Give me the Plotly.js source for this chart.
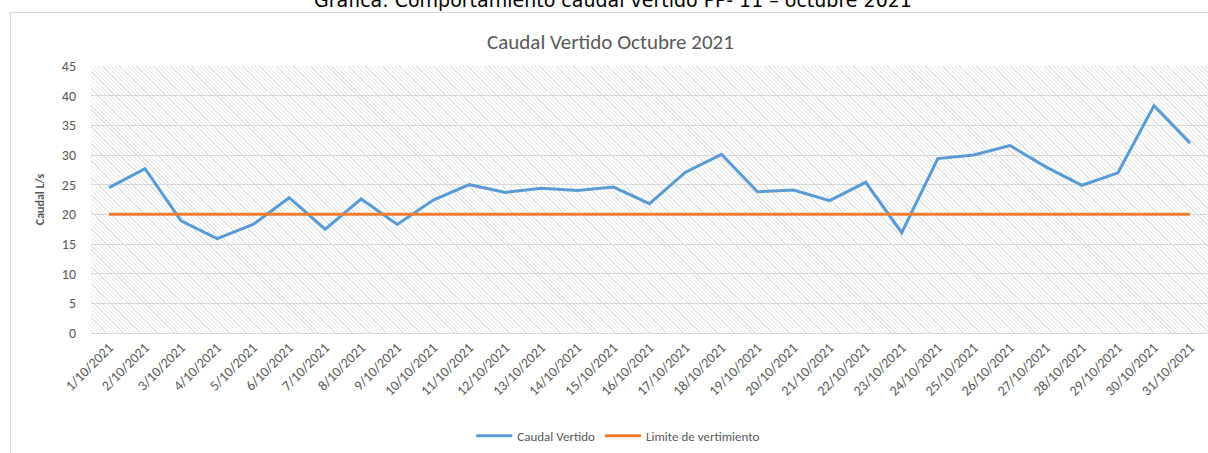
<!DOCTYPE html>
<html>
<head>
<meta charset="utf-8">
<script src="https://cdn.plot.ly/plotly-3.0.1.min.js"></script>
<style>
  html, body { margin: 0; padding: 0; background: #fff; }
  #wrap { position: relative; width: 1208px; height: 453px; overflow: hidden; }
  #frame { position: absolute; left: 10px; top: 12px; width: 1210px; height: 460px; border: 1px solid #d9d9d9; box-sizing: border-box; }
  #hatch { position: absolute; background: repeating-linear-gradient(45deg, #ffffff 0px, #ffffff 1.5px, #e4e4e4 1.5px, #e4e4e4 2.4px, #ffffff 2.4px, #ffffff 3px); }
  #chart { position: absolute; left: 0; top: 0; width: 1208px; height: 453px; }
</style>
</head>
<body>
<div id="wrap">
  <div id="frame"></div>
  <div id="hatch"></div>
  <div id="chart"></div>
</div>
<script>
const fechas = ["1/10/2021","2/10/2021","3/10/2021","4/10/2021","5/10/2021","6/10/2021","7/10/2021","8/10/2021","9/10/2021","10/10/2021","11/10/2021","12/10/2021","13/10/2021","14/10/2021","15/10/2021","16/10/2021","17/10/2021","18/10/2021","19/10/2021","20/10/2021","21/10/2021","22/10/2021","23/10/2021","24/10/2021","25/10/2021","26/10/2021","27/10/2021","28/10/2021","29/10/2021","30/10/2021","31/10/2021"];
const caudalVertido = [24.5, 27.7, 18.9, 15.9, 18.3, 22.8, 17.5, 22.6, 18.3, 22.4, 25.0, 23.7, 24.4, 24.0, 24.6, 21.8, 27.1, 30.1, 23.8, 24.1, 22.3, 25.4, 16.9, 29.4, 30.0, 31.6, 28.0, 24.9, 27.0, 38.3, 32.0];
const limiteVertimiento = [20,20,20,20,20,20,20,20,20,20,20,20,20,20,20,20,20,20,20,20,20,20,20,20,20,20,20,20,20,20,20];
const yTicks = [0,5,10,15,20,25,30,35,40,45];

const font = "Carlito, 'Liberation Sans Narrow', 'Open Sans', sans-serif";
const gray = "#595959";

const traces = [
  { x: fechas, y: caudalVertido, name: "Caudal Vertido", type: "scatter", mode: "lines",
    line: { color: "#5b9bd5", width: 3, shape: "linear" } },
  { x: fechas, y: limiteVertimiento, name: "Limite de vertimiento", type: "scatter", mode: "lines",
    line: { color: "#ed7d31", width: 3 } }
];

const layout = {
  width: 1208, height: 453,
  margin: { l: 91, r: 0, t: 66, b: 120 },
  paper_bgcolor: "rgba(0,0,0,0)",
  plot_bgcolor: "rgba(0,0,0,0)",
  showlegend: true,
  legend: { orientation: "h", x: 0.472, xanchor: "center", y: -0.385, yanchor: "middle",
    font: { family: font, size: 13, color: gray }, itemwidth: 36, traceorder: "normal" },
  xaxis: { type: "category", range: [-0.5, 30.5], tickangle: -45, showgrid: false,
    showline: true, linecolor: "#d9d9d9", linewidth: 1, ticks: "",
    tickfont: { family: font, size: 14, color: gray }, fixedrange: true },
  yaxis: { range: [0, 45], tickvals: yTicks, ticktext: yTicks.map(String),
    showgrid: true, gridcolor: "#d9d9d9", gridwidth: 1, zeroline: false,
    tickfont: { family: font, size: 14, color: gray }, ticklabelstandoff: 14,
    title: { text: "<b>Caudal L/s</b>", font: { family: font, size: 12, color: gray }, standoff: 14 },
    fixedrange: true },
  annotations: [
    { text: "Caudal Vertido Octubre 2021", xref: "paper", yref: "paper", x: 0.465, y: 1.09,
      xanchor: "center", yanchor: "middle", showarrow: false,
      font: { family: font, size: 21, color: gray } },
    { text: "Gráfica: Comportamiento caudal vertido PP- 11 – octubre 2021", xref: "paper", yref: "paper",
      x: 0.467, y: 1.2, xanchor: "center", yanchor: "bottom", showarrow: false,
      font: { family: "'DejaVu Sans', Verdana, sans-serif", size: 19, color: "#000" } }
  ]
};

Plotly.newPlot("chart", traces, layout, { displayModeBar: false, staticPlot: true }).then(function (gd) {
  const s = gd._fullLayout._size;
  const h = document.getElementById("hatch");
  h.style.left = s.l + "px";
  h.style.top = s.t + "px";
  h.style.width = s.w + "px";
  h.style.height = s.h + "px";
});
</script>
</body>
</html>
